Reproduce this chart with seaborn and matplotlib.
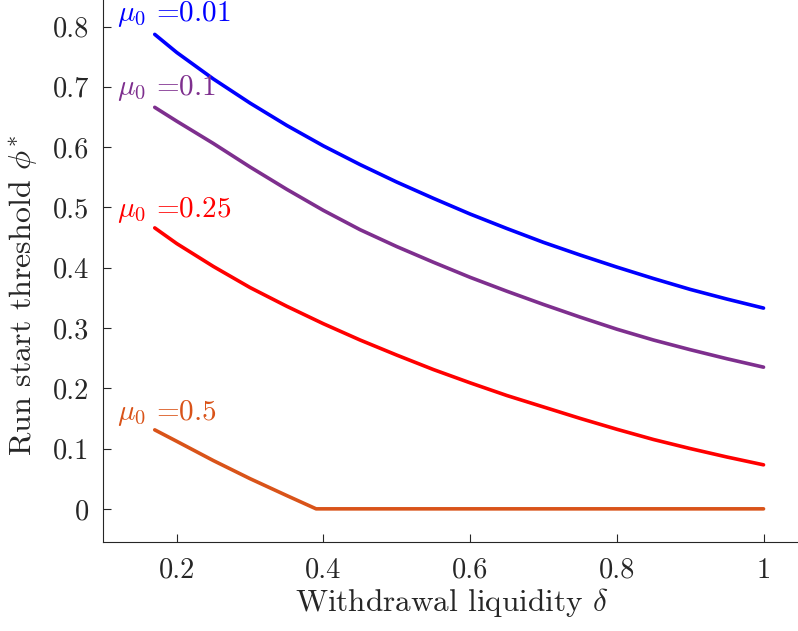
import numpy as np
import pandas as pd
import matplotlib
matplotlib.use("Agg")
import matplotlib.pyplot as plt
import seaborn as sb

# values
delta = [0.17, 0.2, 0.25, 0.3, 0.35, 0.4, 0.45, 0.5, 0.55, 0.6, 0.65,
         0.7, 0.75, 0.8, 0.85, 0.9, 0.95, 1.0]
phi_001 = [0.787, 0.757, 0.713, 0.673, 0.636, 0.602, 0.571, 0.542, 0.515,
           0.489, 0.465, 0.442, 0.421, 0.401, 0.382, 0.364, 0.348, 0.333]
phi_01 = [0.666, 0.643, 0.606, 0.567, 0.530, 0.495, 0.463, 0.435, 0.409,
          0.384, 0.361, 0.339, 0.318, 0.298, 0.280, 0.264, 0.249, 0.235]
phi_025 = [0.466, 0.440, 0.402, 0.367, 0.336, 0.307, 0.280, 0.255, 0.231,
           0.209, 0.188, 0.169, 0.150, 0.132, 0.115, 0.100, 0.086, 0.073]
delta_05 = [0.17, 0.2, 0.25, 0.3, 0.35, 0.39, 1.0]
phi_05 = [0.131, 0.112, 0.080, 0.050, 0.022, 0.0, 0.0]

labels = [r"$\mu_0$ =0.01", r"$\mu_0$ =0.1", r"$\mu_0$ =0.25", r"$\mu_0$ =0.5"]
label_y = [0.82, 0.698, 0.496, 0.159]
colors = ["#0000ff", "#7e2f8e", "#ff0000", "#d95319"]

sb.set_style("ticks")
plt.rcParams["font.family"] = "serif"
plt.rcParams["font.serif"] = ["cmr10", "DejaVu Serif"]
plt.rcParams["mathtext.fontset"] = "cm"
plt.rcParams["axes.formatter.use_mathtext"] = True
plt.rcParams["axes.unicode_minus"] = False

fig = plt.figure(figsize=(7.98, 6.31), dpi=100)
ax = fig.add_axes([103.4 / 798, 89 / 631, 696.8 / 798, 545.6 / 631])

series = [(delta, phi_001), (delta, phi_01), (delta, phi_025), (delta_05, phi_05)]
for (xs, ys), c in zip(series, colors):
    sb.lineplot(x=xs, y=ys, color=c, linewidth=2.6, ax=ax, sort=False)

for lab, ly, c in zip(labels, label_y, colors):
    ax.text(0.119, ly, lab, color=c, fontsize=21, ha="left", va="center")

ax.set_xlim(0.1, 1.05)
ax.set_ylim(-0.055, 0.85)
ax.set_xticks([0.2, 0.4, 0.6, 0.8, 1.0])
ax.set_xticklabels(["0.2", "0.4", "0.6", "0.8", "1"])
ax.set_yticks([0, 0.1, 0.2, 0.3, 0.4, 0.5, 0.6, 0.7, 0.8])
ax.set_yticklabels(["0", "0.1", "0.2", "0.3", "0.4", "0.5", "0.6", "0.7", "0.8"])
ax.tick_params(axis="both", direction="in", length=6, width=0.8,
               colors="#262626", labelsize=20.5)
ax.tick_params(axis="x", pad=11)
ax.tick_params(axis="y", pad=10)
for s in ["top", "right"]:
    ax.spines[s].set_visible(False)
for s in ["left", "bottom"]:
    ax.spines[s].set_color("#262626")
    ax.spines[s].set_linewidth(0.8)

ax.set_xlabel(r"Withdrawal liquidity $\delta$", fontsize=22.5, color="#262626", labelpad=2)
ax.set_ylabel(r"Run start threshold $\phi^{*}$", fontsize=23, color="#262626")
ax.yaxis.set_label_coords(-0.091, 0.451)

fig.savefig("out.png", dpi=100)
